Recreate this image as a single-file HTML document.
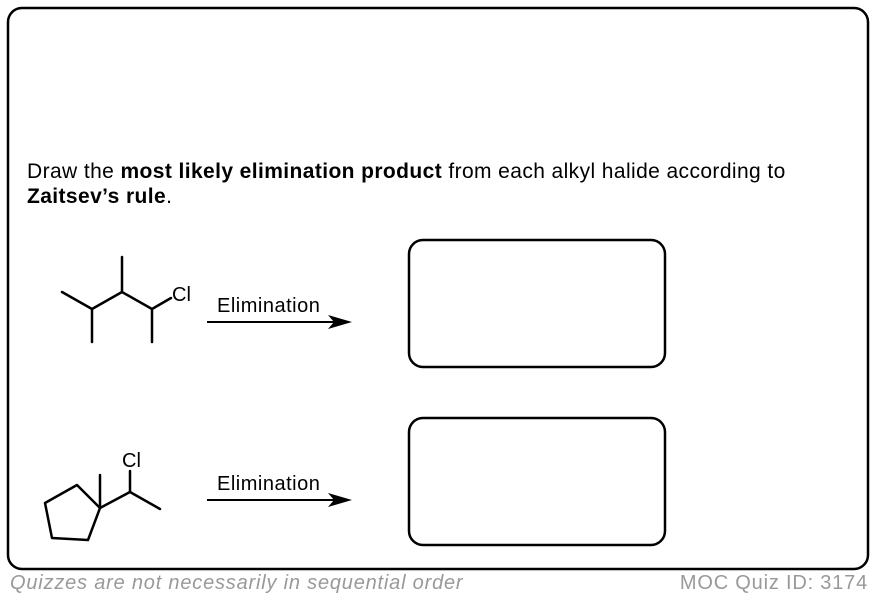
<!DOCTYPE html>
<html><head><style>
body{margin:0;width:876px;height:602px;background:#fff;font-family:"Liberation Sans",sans-serif;position:relative;overflow:hidden}
.t{position:absolute;font-size:21px;color:#000;letter-spacing:0.4px;white-space:nowrap}
</style></head><body>
<svg width="876" height="602" style="position:absolute;left:0;top:0">
<rect x="8" y="8" width="860" height="561" rx="14" fill="none" stroke="#000" stroke-width="2.5"/>
<rect x="409" y="240" width="256" height="127" rx="14" fill="none" stroke="#000" stroke-width="2.5"/>
<rect x="409" y="418" width="256" height="127" rx="14" fill="none" stroke="#000" stroke-width="2.5"/>
<g stroke="#000" stroke-width="2.5" fill="none" stroke-linecap="round" stroke-linejoin="round">
<polyline points="62,292 92,309 122,292 152,309 171,298"/>
<line x1="92" y1="309" x2="92" y2="342"/>
<line x1="122" y1="292" x2="122" y2="257"/>
<line x1="152" y1="309" x2="152" y2="342"/>
<polygon points="100,508 77,485 45,503 52,538 88,540"/>
<line x1="100" y1="508" x2="100" y2="475"/>
<polyline points="100,508 130,492 160,509"/>
<line x1="130" y1="492" x2="130" y2="471"/>
</g>
<line x1="207" y1="322" x2="335" y2="322" stroke="#000" stroke-width="2"/>
<polygon points="352,322 328,315 334,322 328,329" fill="#000"/>
<line x1="207" y1="500" x2="335" y2="500" stroke="#000" stroke-width="2"/>
<polygon points="352,500 328,493 334,500 328,507" fill="#000"/>
<g font-family="Liberation Sans,sans-serif" font-size="20">
<text x="172" y="301">Cl</text>
<text x="122" y="467">Cl</text>
<text x="217" y="312" letter-spacing="0.5">Elimination</text>
<text x="217" y="490" letter-spacing="0.5">Elimination</text>
</g>
</svg>
<div class="t" style="left:27px;top:159px;line-height:25px">Draw the <b>most likely elimination product</b> from each alkyl halide according to<br><b>Zaitsev’s rule</b>.</div>
<div class="t" style="left:10px;top:572px;color:#999;font-style:italic;font-size:20px;letter-spacing:0.8px">Quizzes are not necessarily in sequential order</div>
<div class="t" style="right:8px;top:572px;color:#999;font-size:20px;letter-spacing:0.8px">MOC Quiz ID: 3174</div>
</body></html>
